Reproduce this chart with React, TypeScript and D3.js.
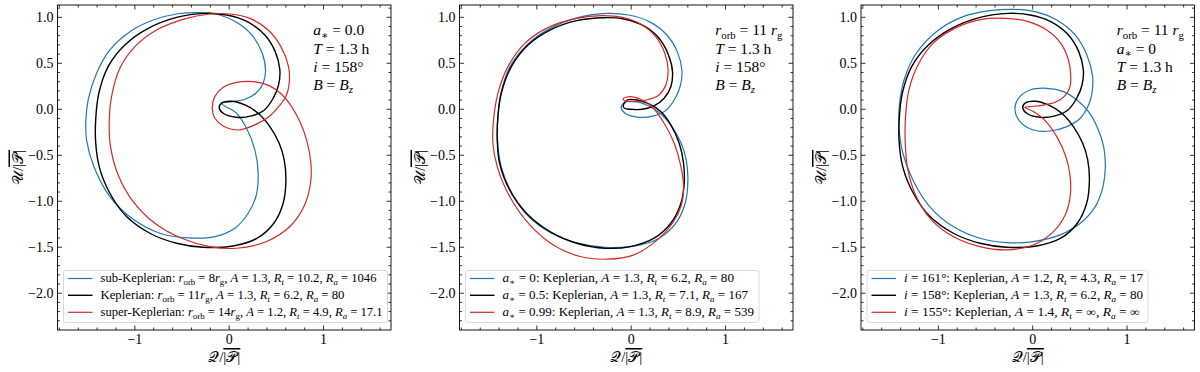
import React from 'react';
import * as d3 from 'd3';

type P = [number, number];

// Keplerian reference orbit: a*=0, r_orb=11 r_g, i=158 deg (appears in all panels)
const keplerian: P[] = [
  [-0.106, 0.018], [-0.074, 0.072], [0.025, 0.087], [0.166, 0.047], [0.307, -0.043],
  [0.431, -0.188], [0.530, -0.370], [0.583, -0.551], [0.601, -0.768], [0.572, -1.022],
  [0.473, -1.239], [0.297, -1.402], [0.042, -1.486], [-0.276, -1.500], [-0.558, -1.457],
  [-0.841, -1.348], [-1.088, -1.167], [-1.265, -0.913], [-1.378, -0.623], [-1.417, -0.333],
  [-1.413, -0.080], [-1.382, 0.174], [-1.283, 0.464], [-1.106, 0.699], [-0.859, 0.880],
  [-0.558, 1.000], [-0.258, 1.043], [-0.028, 1.025], [0.191, 0.953], [0.378, 0.808],
  [0.488, 0.627], [0.537, 0.428], [0.523, 0.264], [0.466, 0.120], [0.367, -0.014],
  [0.237, -0.072], [0.078, -0.087], [-0.064, -0.043],
];

const subKeplerian: P[] = [
  [-0.081, 0.065], [0.078, -0.043], [0.184, -0.207], [0.272, -0.442], [0.307, -0.696],
  [0.283, -0.949], [0.201, -1.130], [0.060, -1.293], [-0.152, -1.384], [-0.435, -1.399],
  [-0.735, -1.348], [-1.018, -1.196], [-1.265, -0.949], [-1.435, -0.623], [-1.512, -0.333],
  [-1.519, -0.116], [-1.495, 0.101], [-1.406, 0.391], [-1.265, 0.645], [-1.053, 0.844],
  [-0.806, 0.971], [-0.558, 1.036], [-0.311, 1.051], [-0.099, 1.025], [0.095, 0.935],
  [0.254, 0.790], [0.350, 0.609], [0.385, 0.428], [0.360, 0.283], [0.283, 0.174],
  [0.166, 0.109], [0.042, 0.083],
];

const superKeplerian: P[] = [
  [-0.180, 0.011], [-0.152, 0.138], [-0.064, 0.239], [0.078, 0.293], [0.254, 0.301],
  [0.424, 0.257], [0.555, 0.163], [0.661, 0.029], [0.749, -0.134], [0.820, -0.333],
  [0.866, -0.587], [0.862, -0.804], [0.792, -1.058], [0.643, -1.275], [0.396, -1.438],
  [0.078, -1.511], [-0.205, -1.493], [-0.505, -1.402], [-0.788, -1.239], [-1.018, -1.004],
  [-1.177, -0.714], [-1.258, -0.406], [-1.272, -0.152], [-1.247, 0.138], [-1.159, 0.446],
  [-1.000, 0.681], [-0.770, 0.862], [-0.488, 0.978], [-0.205, 1.036], [0.007, 1.036],
  [0.219, 0.989], [0.413, 0.862], [0.548, 0.681], [0.629, 0.464], [0.636, 0.283],
  [0.601, 0.138], [0.530, 0.036], [0.431, -0.072], [0.272, -0.170], [0.095, -0.225],
  [-0.064, -0.181], [-0.152, -0.098],
];

const spin05: P[] = [
  [-0.085, 0.036], [-0.043, 0.101], [0.064, 0.101], [0.189, 0.058], [0.313, -0.025],
  [0.420, -0.170], [0.509, -0.370], [0.555, -0.587], [0.562, -0.804], [0.527, -1.022],
  [0.420, -1.239], [0.242, -1.402], [-0.007, -1.493], [-0.274, -1.511], [-0.577, -1.457],
  [-0.861, -1.330], [-1.110, -1.130], [-1.288, -0.877], [-1.395, -0.587], [-1.420, -0.333],
  [-1.413, -0.080], [-1.377, 0.174], [-1.270, 0.464], [-1.093, 0.699], [-0.861, 0.862],
  [-0.577, 0.964], [-0.292, 0.996], [-0.078, 0.982], [0.135, 0.906], [0.295, 0.772],
  [0.395, 0.591], [0.438, 0.409], [0.420, 0.246], [0.349, 0.120], [0.242, 0.036],
  [0.117, 0.000], [-0.007, 0.000], [-0.071, 0.011],
];

const spin099: P[] = [
  [-0.085, 0.116], [-0.007, 0.138], [0.100, 0.109], [0.214, 0.036], [0.349, -0.152],
  [0.456, -0.370], [0.527, -0.623], [0.555, -0.841], [0.527, -1.058], [0.438, -1.239],
  [0.278, -1.420], [0.028, -1.583], [-0.256, -1.630], [-0.541, -1.601], [-0.826, -1.475],
  [-1.075, -1.257], [-1.288, -0.949], [-1.420, -0.623], [-1.466, -0.370], [-1.459, -0.116],
  [-1.413, 0.174], [-1.306, 0.464], [-1.128, 0.717], [-0.879, 0.891], [-0.577, 0.989],
  [-0.310, 1.018], [-0.096, 1.000], [0.100, 0.928], [0.260, 0.790], [0.356, 0.609],
  [0.391, 0.428], [0.367, 0.264], [0.295, 0.156], [0.189, 0.109], [0.082, 0.087],
  [-0.007, 0.083], [-0.071, 0.094],
];

const incl161: P[] = [
  [-0.188, -0.007], [-0.152, 0.120], [-0.028, 0.210], [0.149, 0.228], [0.326, 0.192],
  [0.468, 0.101], [0.592, -0.025], [0.681, -0.188], [0.752, -0.406], [0.770, -0.623],
  [0.745, -0.841], [0.663, -1.058], [0.504, -1.239], [0.291, -1.366], [0.007, -1.438],
  [-0.277, -1.449], [-0.560, -1.402], [-0.844, -1.275], [-1.092, -1.058], [-1.270, -0.768],
  [-1.376, -0.478], [-1.418, -0.188], [-1.411, 0.065], [-1.358, 0.337], [-1.234, 0.609],
  [-1.021, 0.844], [-0.738, 1.007], [-0.454, 1.072], [-0.206, 1.087], [0.025, 1.062],
  [0.255, 0.971], [0.450, 0.808], [0.574, 0.591], [0.635, 0.355], [0.628, 0.174],
  [0.592, 0.047], [0.504, -0.098], [0.362, -0.188], [0.184, -0.236], [0.007, -0.225],
  [-0.135, -0.134],
];

const incl155: P[] = [
  [-0.082, 0.022], [0.007, -0.025], [0.131, -0.123], [0.255, -0.297], [0.351, -0.514],
  [0.397, -0.732], [0.397, -0.949], [0.344, -1.149], [0.220, -1.330], [0.007, -1.475],
  [-0.277, -1.529], [-0.560, -1.493], [-0.844, -1.384], [-1.074, -1.203], [-1.234, -0.949],
  [-1.323, -0.659], [-1.351, -0.370], [-1.348, -0.080], [-1.312, 0.210], [-1.216, 0.482],
  [-1.057, 0.717], [-0.826, 0.880], [-0.543, 0.978], [-0.277, 0.989], [-0.046, 0.953],
  [0.149, 0.862], [0.298, 0.717], [0.379, 0.536], [0.404, 0.355], [0.390, 0.228],
  [0.333, 0.138], [0.238, 0.076], [0.096, 0.043], [-0.028, 0.029],
];

const xTickValues = [-1, 0, 1];
const xTickLabels = ['−1', '0', '1'];
const yTickValues = [1.0, 0.5, 0.0, -0.5, -1.0, -1.5, -2.0];
const yTickLabels = ['1.0', '0.5', '0.0', '−0.5', '−1.0', '−1.5', '−2.0'];

const legend1 = [
  'sub-Keplerian: <i>r</i>_(orb) = 8<i>r</i>_(g), <i>A</i> = 1.3, <i>R</i>_[t] = 10.2, <i>R</i>_[a] = 1046',
  'Keplerian: <i>r</i>_(orb) = 11<i>r</i>_(g), <i>A</i> = 1.3, <i>R</i>_[t] = 6.2, <i>R</i>_[a] = 80',
  'super-Keplerian: <i>r</i>_(orb) = 14<i>r</i>_(g), <i>A</i> = 1.2, <i>R</i>_[t] = 4.9, <i>R</i>_[a] = 17.1',
];
const legend2 = [
  '<i>a</i>_[∗] = 0: Keplerian, <i>A</i> = 1.3, <i>R</i>_[t] = 6.2, <i>R</i>_[a] = 80',
  '<i>a</i>_[∗] = 0.5: Keplerian, <i>A</i> = 1.3, <i>R</i>_[t] = 7.1, <i>R</i>_[a] = 167',
  '<i>a</i>_[∗] = 0.99: Keplerian, <i>A</i> = 1.3, <i>R</i>_[t] = 8.9, <i>R</i>_[a] = 539',
];
const legend3 = [
  '<i>i</i> = 161°: Keplerian, <i>A</i> = 1.2, <i>R</i>_[t] = 4.3, <i>R</i>_[a] = 17',
  '<i>i</i> = 158°: Keplerian, <i>A</i> = 1.3, <i>R</i>_[t] = 6.2, <i>R</i>_[a] = 80',
  '<i>i</i> = 155°: Keplerian, <i>A</i> = 1.4, <i>R</i>_[t] = ∞, <i>R</i>_[a] = ∞',
];

const notes1 = ['<i>a</i>_[∗] = 0.0', '<i>T</i> = 1.3 h', '<i>i</i> = 158°', '<i>B</i> = <i>B</i>_[z]'];
const notes2 = ['<i>r</i>_(orb) = 11 <i>r</i>_(g)', '<i>T</i> = 1.3 h', '<i>i</i> = 158°', '<i>B</i> = <i>B</i>_[z]'];
const notes3 = ['<i>r</i>_(orb) = 11 <i>r</i>_(g)', '<i>a</i>_[∗] = 0', '<i>T</i> = 1.3 h', '<i>B</i> = <i>B</i>_[z]'];

const BLUE = '#1f77b4';
const RED = '#d62728';
const BLACK = '#000000';

const panels = [
  { left: 57.5, series: [subKeplerian, keplerian, superKeplerian], legend: legend1, legendWidths: [276, 244, 282] },
  { left: 459.5, series: [keplerian, spin05, spin099], legend: legend2, legendWidths: [231.5, 245.5, 251.5] },
  { left: 861, series: [incl161, keplerian, incl155], legend: legend3, legendWidths: [239, 239, 235.7] },
];
const notes = [notes1, notes2, notes3];
const colors = [BLUE, BLACK, RED];

const FONT = '"Liberation Serif", "DejaVu Serif", serif';
const W = 333.5;
const TOP = 5;
const H = 325;

function MathText(props: { s: string; x: number; y: number; size: number; anchor?: string; textLength?: number }) {
  const { s, x, y, size, anchor, textLength } = props;
  const tokens = s.match(/<i>.*?<\/i>|_\(.*?\)|_\[.*?\]|[^<_]+/g) || [];
  let offset = 0;
  const spans = tokens.map((tok, k) => {
    let text = tok;
    let italic = false;
    let sub = false;
    if (tok.startsWith('<i>')) { text = tok.slice(3, -4); italic = true; }
    else if (tok.startsWith('_(')) { text = tok.slice(2, -1); sub = true; }
    else if (tok.startsWith('_[')) { text = tok.slice(2, -1); sub = true; italic = true; }
    const target = sub ? size * 0.25 : 0;
    const dy = target - offset;
    offset = target;
    return (
      <tspan key={k} dy={dy} fontStyle={italic ? 'italic' : 'normal'} fontSize={sub ? size * 0.7 : size}>
        {text}
      </tspan>
    );
  });
  return (
    <text
      x={x}
      y={y}
      fontSize={size}
      textAnchor={anchor || 'start'}
      style={{ whiteSpace: 'pre' }}
      textLength={textLength}
      lengthAdjust={textLength ? 'spacingAndGlyphs' : undefined}
      fill="#000"
    >
      {spans}
    </text>
  );
}

function Panel({ idx }: { idx: number }) {
  const p = panels[idx];
  const left = p.left;
  const x = d3.scaleLinear().domain([-1.82, 1.715]).range([left, left + W]);
  const y = d3.scaleLinear().domain([-2.4, 1.134]).range([TOP + H, TOP]);
  const line = d3
    .line<P>()
    .x((d) => x(d[0]))
    .y((d) => y(d[1]))
    .curve(d3.curveCatmullRomClosed.alpha(0.5));

  const xMinor = d3.range(-18, 18, 2).map((v) => v / 10).filter((v) => Math.abs(v - Math.round(v)) > 1e-6);
  const yMinor = d3.range(-23, 12, 1).map((v) => v / 10).filter((v) => Math.abs(v * 2 - Math.round(v * 2)) > 1e-6);
  const MAJ = 4.5;
  const MIN = 2.5;
  const bottom = TOP + H;
  const right = left + W;

  const tickLines: JSX.Element[] = [];
  const addX = (v: number, len: number, key: string) => {
    const px = x(v);
    tickLines.push(<line key={'b' + key} x1={px} x2={px} y1={bottom} y2={bottom - len} />);
    tickLines.push(<line key={'t' + key} x1={px} x2={px} y1={TOP} y2={TOP + len} />);
  };
  const addY = (v: number, len: number, key: string) => {
    const py = y(v);
    tickLines.push(<line key={'l' + key} x1={left} x2={left + len} y1={py} y2={py} />);
    tickLines.push(<line key={'r' + key} x1={right} x2={right - len} y1={py} y2={py} />);
  };
  xTickValues.forEach((v, i) => addX(v, MAJ, 'M' + i));
  xMinor.forEach((v, i) => addX(v, MIN, 'm' + i));
  yTickValues.forEach((v, i) => addY(v, MAJ, 'M' + i));
  yMinor.forEach((v, i) => addY(v, MIN, 'm' + i));

  const legTextX = left + 43;
  const legBoxX = left + 6;
  const legBoxR = legTextX + Math.max(...p.legendWidths) + 5;
  const legRows = [278.5, 295.3, 312.3];

  return (
    <g fontFamily={FONT}>
      {p.series.map((s, i) => (
        <path key={i} d={line(s) || ''} fill="none" stroke={colors[i]} strokeWidth={i === 1 ? 1.4 : 1.2} />
      ))}
      <g stroke="#000" strokeWidth={0.8}>{tickLines}</g>
      <rect x={left} y={TOP} width={W} height={H} fill="none" stroke="#000" strokeWidth={0.9} />
      {xTickValues.map((v, i) => (
        <text key={'xt' + i} x={x(v)} y={343.5} fontSize={14} textAnchor="middle">{xTickLabels[i]}</text>
      ))}
      {yTickValues.map((v, i) => (
        <text key={'yt' + i} x={left - 4} y={y(v) + 4.7} fontSize={14} textAnchor="end">{yTickLabels[i]}</text>
      ))}
      <text x={left + W / 2} y={362} fontSize={15} textAnchor="middle">
        <tspan>𝒬/</tspan>
        <tspan style={{ textDecoration: 'overline' }}>|𝒫|</tspan>
      </text>
      <text transform={`translate(${left - 35},${TOP + H / 2}) rotate(-90)`} fontSize={15} textAnchor="middle">
        <tspan>𝒰/</tspan>
        <tspan style={{ textDecoration: 'overline' }}>|𝒫|</tspan>
      </text>
      {notes[idx].map((n, i) => (
        <MathText key={'n' + i} s={n} x={left + 255.7} y={[35, 53.5, 72, 89.5][i]} size={15.5} />
      ))}
      <rect x={legBoxX} y={270.5} width={legBoxR - legBoxX} height={52} rx={2.5} fill="#fff" fillOpacity={0.8} stroke="#d0d0d0" strokeWidth={0.8} />
      {p.legend.map((t, i) => (
        <g key={'lg' + i}>
          <line x1={left + 10.5} x2={left + 35} y1={legRows[i]} y2={legRows[i]} stroke={colors[i]} strokeWidth={i === 1 ? 1.4 : 1.2} />
          <MathText s={t} x={legTextX} y={legRows[i] + 3.8} size={11.5} textLength={p.legendWidths[i]} />
        </g>
      ))}
    </g>
  );
}

export default function App() {
  return (
    <svg width={1200} height={372} style={{ position: 'absolute', left: 0, top: 0, background: '#fff' }}>
      <rect x={0} y={0} width={1200} height={372} fill="#fff" />
      {panels.map((_, i) => (
        <Panel key={i} idx={i} />
      ))}
    </svg>
  );
}
